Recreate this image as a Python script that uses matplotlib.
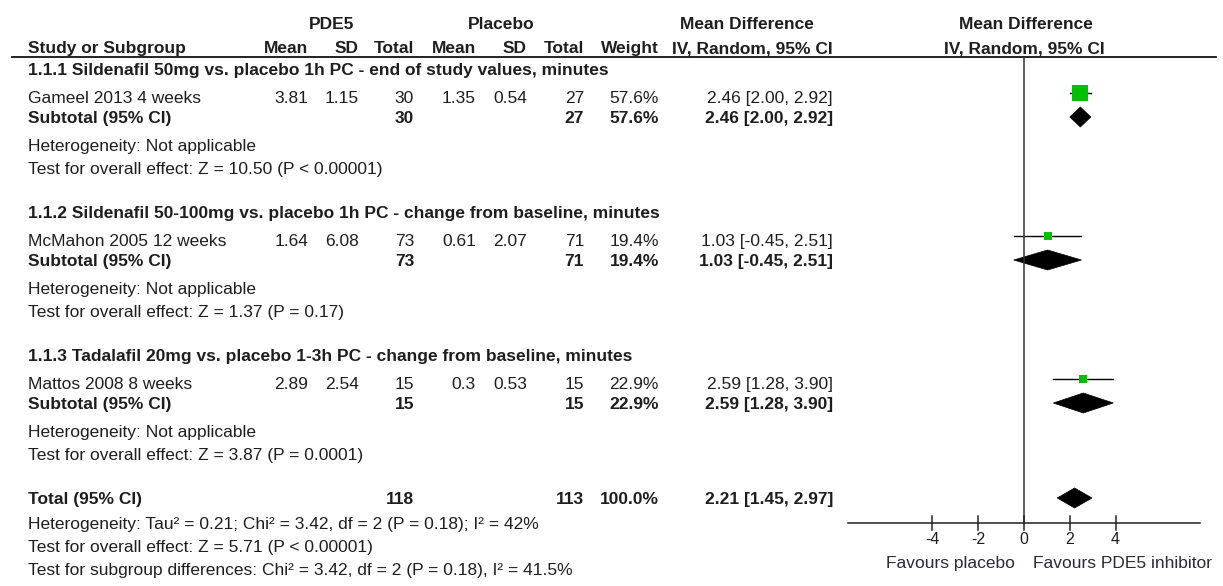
import matplotlib
matplotlib.use("Agg")
import matplotlib.pyplot as plt
from matplotlib.patches import Polygon

plt.rcParams['font.family'] = ['Liberation Sans', 'DejaVu Sans']

# study level data
studies = ["Gameel 2013 4 weeks", "McMahon 2005 12 weeks", "Mattos 2008 8 weeks"]
subgroups = ["1.1.1 Sildenafil 50mg vs. placebo 1h PC - end of study values, minutes",
             "1.1.2 Sildenafil 50-100mg vs. placebo 1h PC - change from baseline, minutes",
             "1.1.3 Tadalafil 20mg vs. placebo 1-3h PC - change from baseline, minutes"]
pde5_mean = [3.81, 1.64, 2.89]
pde5_sd = [1.15, 6.08, 2.54]
pde5_n = [30, 73, 15]
plac_mean = [1.35, 0.61, 0.3]
plac_sd = [0.54, 2.07, 0.53]
plac_n = [27, 71, 15]
weight = [57.6, 19.4, 22.9]
md = [2.46, 1.03, 2.59]
ci_lo = [2.00, -0.45, 1.28]
ci_hi = [2.92, 2.51, 3.90]
overall = ["Z = 10.50 (P < 0.00001)", "Z = 1.37 (P = 0.17)", "Z = 3.87 (P = 0.0001)"]

# pooled result
tot_pde5 = 118
tot_plac = 113
tot_weight = 100.0
tot_md = 2.21
tot_lo = 1.45
tot_hi = 2.97
footer = ["Heterogeneity: Tau\u00b2 = 0.21; Chi\u00b2 = 3.42, df = 2 (P = 0.18); I\u00b2 = 42%",
          "Test for overall effect: Z = 5.71 (P < 0.00001)",
          "Test for subgroup differences: Chi\u00b2 = 3.42, df = 2 (P = 0.18), I\u00b2 = 41.5%"]

ticks = [-4, -2, 0, 2, 4]

W, H = 1223, 586
fig = plt.figure(figsize=(W / 100, H / 100), dpi=100)
ax = fig.add_axes([0, 0, 1, 1])
ax.set_xlim(0, W)
ax.set_ylim(H, 0)
ax.axis('off')

# forest panel: 22.9 px per unit, zero at x=1024
fx0, fw = 840, 383
ppu = 22.9
fa = fig.add_axes([fx0 / W, 0, fw / W, 1])
fa.set_xlim(-(1024 - fx0) / ppu, (fx0 + fw - 1024) / ppu)
fa.set_ylim(H, 0)
fa.axis('off')

FS = 12.5
TC = '#1e1e1e'
BL = 6  # baseline offset from row centre


def txt(x, y, s, ha='left', bold=False, axes=ax, fs=FS):
    axes.text(x, y + BL, s, ha=ha, va='baseline', fontsize=fs, color=TC,
              fontweight='bold' if bold else 'normal')


# column right edges
c_m1, c_s1, c_n1 = 308, 359, 414
c_m2, c_s2, c_n2 = 476, 527, 584
c_w, c_ci = 659, 833
x0 = 28

# header
txt(332, 23, "PDE5", ha='center', bold=True)
txt(501, 23, "Placebo", ha='center', bold=True)
txt(747, 23, "Mean Difference", ha='center', bold=True)
txt(1026, 23, "Mean Difference", ha='center', bold=True)
txt(x0, 47, "Study or Subgroup", bold=True)
for x, s in [(c_m1, "Mean"), (c_s1, "SD"), (c_n1, "Total"), (c_m2, "Mean"),
             (c_s2, "SD"), (c_n2, "Total"), (c_w, "Weight"),
             (c_ci, "IV, Random, 95% CI")]:
    txt(x, 47, s, ha='right', bold=True)
txt(1024, 47, "IV, Random, 95% CI", ha='center', bold=True)
ax.plot([12, 1216], [57, 57], color='#111111', lw=1.3)


def diamond(y, est, lo, hi, h=20):
    fa.add_patch(Polygon([(lo, y), (est, y - h / 2), (hi, y), (est, y + h / 2)],
                         closed=True, facecolor='black', edgecolor='black', lw=0.5))


def ci_str(e, lo, hi):
    return f"{e:.2f} [{lo:.2f}, {hi:.2f}]"


pitch = 143
for i in range(3):
    y = 69 + i * pitch
    txt(x0, y, subgroups[i], bold=True)
    ys = y + 28
    txt(x0, ys, studies[i])
    txt(c_m1, ys, f"{pde5_mean[i]:g}", ha='right')
    txt(c_s1, ys, f"{pde5_sd[i]:g}", ha='right')
    txt(c_n1, ys, str(pde5_n[i]), ha='right')
    txt(c_m2, ys, f"{plac_mean[i]:g}", ha='right')
    txt(c_s2, ys, f"{plac_sd[i]:g}", ha='right')
    txt(c_n2, ys, str(plac_n[i]), ha='right')
    txt(c_w, ys, f"{weight[i]:.1f}%", ha='right')
    txt(c_ci, ys, ci_str(md[i], ci_lo[i], ci_hi[i]), ha='right')
    yt = ys + 20
    txt(x0, yt, "Subtotal (95% CI)", bold=True)
    txt(c_n1, yt, str(pde5_n[i]), ha='right', bold=True)
    txt(c_n2, yt, str(plac_n[i]), ha='right', bold=True)
    txt(c_w, yt, f"{weight[i]:.1f}%", ha='right', bold=True)
    txt(c_ci, yt, ci_str(md[i], ci_lo[i], ci_hi[i]), ha='right', bold=True)
    txt(x0, yt + 28, "Heterogeneity: Not applicable")
    txt(x0, yt + 51, "Test for overall effect: " + overall[i])

    # study square and whisker
    side = 0.8 * weight[i] ** 0.75
    fa.plot([ci_lo[i], ci_hi[i]], [ys - 4, ys - 4], color='black', lw=1.0)
    fa.plot([md[i]], [ys - 4], marker='s', ms=side * 0.72, color='#00c000',
            markeredgewidth=0, linestyle='none')
    diamond(yt, md[i], ci_lo[i], ci_hi[i])

# total row
yT = 498
txt(x0, yT, "Total (95% CI)", bold=True)
txt(c_n1, yT, str(tot_pde5), ha='right', bold=True)
txt(c_n2, yT, str(tot_plac), ha='right', bold=True)
txt(c_w, yT, f"{tot_weight:.1f}%", ha='right', bold=True)
txt(c_ci, yT, ci_str(tot_md, tot_lo, tot_hi), ha='right', bold=True)
for k, s in enumerate(footer):
    txt(x0, yT + 25 + 23 * k, s)
diamond(yT, tot_md, tot_lo, tot_hi)

# zero line and axis
ya = 523
fa.plot([0, 0], [57, ya], color='#333333', lw=1.1)
fa.plot([-7.7, 7.7], [ya, ya], color='#222222', lw=1.1)
for t in ticks:
    fa.plot([t, t], [ya - 7, ya + 7], color='#222222', lw=1.1)
    fa.text(t, 544, f"{t:d}", ha='center', va='baseline', fontsize=11.5, color=TC)
fa.text(-0.4, 568, "Favours placebo", ha='right', va='baseline', fontsize=FS, color='#2a2a3a')
fa.text(0.4, 568, "Favours PDE5 inhibitor", ha='left', va='baseline', fontsize=FS,
        color='#2a2a3a', clip_on=False)

fig.savefig("out.png", dpi=100)
